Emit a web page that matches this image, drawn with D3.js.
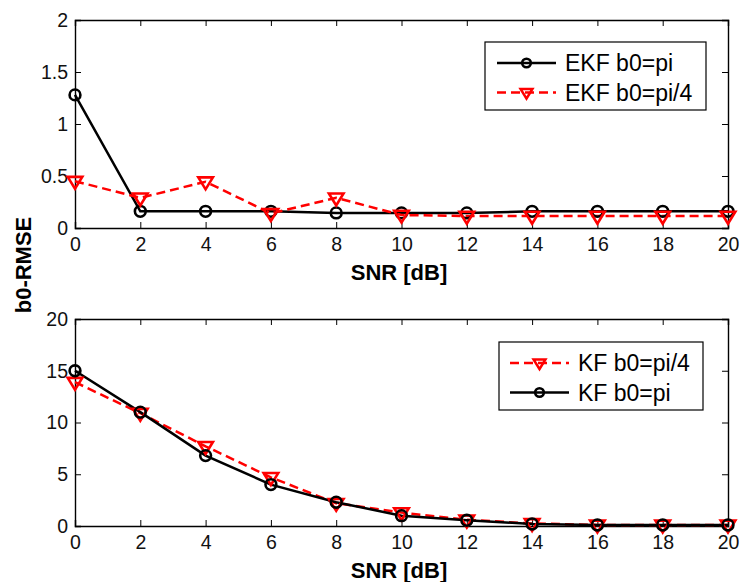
<!DOCTYPE html>
<html>
<head>
<meta charset="utf-8">
<script src="https://cdn.jsdelivr.net/npm/d3@7"></script>
<style>
  body { margin: 0; background: #fff; }
  text { font-family: "Liberation Sans", Arial, sans-serif; }
</style>
</head>
<body>
<script>
const width = 740;
const height = 582;

// data
const snr = [0, 2, 4, 6, 8, 10, 12, 14, 16, 18, 20];
const ekfPi = [1.28, 0.16, 0.16, 0.16, 0.145, 0.145, 0.145, 0.16, 0.16, 0.16, 0.16];
const ekfPi4 = [0.45, 0.29, 0.445, 0.14, 0.29, 0.125, 0.115, 0.115, 0.115, 0.115, 0.115];
const kfPi4 = [13.9, 10.9, 7.7, 4.7, 2.2, 1.3, 0.6, 0.25, 0.1, 0.1, 0.1];
const kfPi = [15.0, 11.0, 6.8, 4.0, 2.3, 1.0, 0.55, 0.2, 0.1, 0.1, 0.1];
const xTicks = [0, 2, 4, 6, 8, 10, 12, 14, 16, 18, 20];
const yTicksTop = [0, 0.5, 1, 1.5, 2];
const yTicksBottom = [0, 5, 10, 15, 20];

const svg = d3.select('body')
  .append('svg')
  .attr('width', width)
  .attr('height', height);

const x = d3.scaleLinear().domain([0, 20]).range([75, 728]);

function panel(opts) {
  const y = d3.scaleLinear().domain(opts.yDomain).range([opts.bottom, opts.top]);
  const g = svg.append('g');

  // axes with inward ticks on all four sides
  g.append('g')
    .attr('transform', `translate(0,${opts.bottom})`)
    .call(d3.axisBottom(x).tickValues(xTicks).tickSize(-6).tickPadding(9).tickFormat(d3.format('d')));
  g.append('g')
    .attr('transform', `translate(0,${opts.top})`)
    .call(d3.axisTop(x).tickValues(xTicks).tickSize(-6).tickFormat(''));
  g.append('g')
    .attr('transform', `translate(75,0)`)
    .call(d3.axisLeft(y).tickValues(opts.yTicks).tickSize(-6).tickPadding(7).tickFormat(d => String(d)));
  g.append('g')
    .attr('transform', `translate(728,0)`)
    .call(d3.axisRight(y).tickValues(opts.yTicks).tickSize(-6).tickFormat(''));

  g.selectAll('.domain').attr('stroke', '#000').attr('stroke-width', 1.4);
  g.selectAll('.tick line').attr('stroke', '#000').attr('stroke-width', 1);
  g.selectAll('.tick text').attr('font-size', 19.5).attr('fill', '#111')
    .attr('font-family', '"Liberation Sans", Arial, sans-serif');

  // x label
  g.append('text')
    .attr('x', 399).attr('y', opts.bottom + 52)
    .attr('text-anchor', 'middle')
    .attr('font-size', 22).attr('font-weight', 'bold')
    .text('SNR [dB]');

  const line = d3.line().x((d, i) => x(snr[i])).y(d => y(d));

  opts.series.forEach(s => {
    g.append('path')
      .datum(s.values)
      .attr('fill', 'none')
      .attr('stroke', s.color)
      .attr('stroke-width', 2.5)
      .attr('stroke-dasharray', s.dash ? '9,5' : null)
      .attr('d', line);
  });
  opts.series.forEach(s => {
    s.values.forEach((v, i) => drawMarker(g, s, x(snr[i]), y(v)));
  });

  // legend
  const lg = g.append('g');
  const L = opts.legend;
  lg.append('rect')
    .attr('x', L.x).attr('y', L.y)
    .attr('width', L.w).attr('height', 68)
    .attr('fill', '#fff').attr('stroke', '#000').attr('stroke-width', 1.2);
  opts.series.forEach((s, i) => {
    const cy = L.y + 21 + i * 29.5;
    const x0 = L.x + L.pad;
    lg.append('line')
      .attr('x1', x0).attr('x2', x0 + 59)
      .attr('y1', cy).attr('y2', cy)
      .attr('stroke', s.color).attr('stroke-width', 2.5)
      .attr('stroke-dasharray', s.dash ? '9,5' : null);
    drawMarker(lg, s, x0 + 29.5, cy, 0.8);
    lg.append('text')
      .attr('x', x0 + 68).attr('y', cy + 8)
      .attr('font-size', 23)
      .text(s.name);
  });
}

function drawMarker(g, s, cx, cy, k = 1) {
  if (s.marker === 'circle') {
    g.append('circle')
      .attr('cx', cx).attr('cy', cy).attr('r', 5.4 * k)
      .attr('fill', 'none').attr('stroke', s.color).attr('stroke-width', 2.6);
  } else {
    const w = 7.3 * k, up = 4.3 * k, down = 7.6 * k;
    g.append('path')
      .attr('d', `M${cx - w},${cy - up}L${cx + w},${cy - up}L${cx},${cy + down}Z`)
      .attr('fill', 'none').attr('stroke', s.color).attr('stroke-width', 2.6)
      .attr('stroke-linejoin', 'miter');
  }
}

panel({
  top: 20, bottom: 228, yDomain: [0, 2], yTicks: yTicksTop,
  legend: { x: 485, y: 42, w: 221, pad: 12 },
  series: [
    { name: 'EKF b0=pi', values: ekfPi, color: '#000', dash: false, marker: 'circle' },
    { name: 'EKF b0=pi/4', values: ekfPi4, color: '#ff0000', dash: true, marker: 'tri' }
  ]
});

panel({
  top: 319, bottom: 526, yDomain: [0, 20], yTicks: yTicksBottom,
  legend: { x: 499, y: 342, w: 204, pad: 11 },
  series: [
    { name: 'KF b0=pi/4', values: kfPi4, color: '#ff0000', dash: true, marker: 'tri' },
    { name: 'KF b0=pi', values: kfPi, color: '#000', dash: false, marker: 'circle' }
  ]
});

// shared y label
svg.append('text')
  .attr('transform', 'translate(31,265) rotate(-90)')
  .attr('text-anchor', 'middle')
  .attr('font-size', 22).attr('font-weight', 'bold')
  .text('b0-RMSE');
</script>
</body>
</html>
